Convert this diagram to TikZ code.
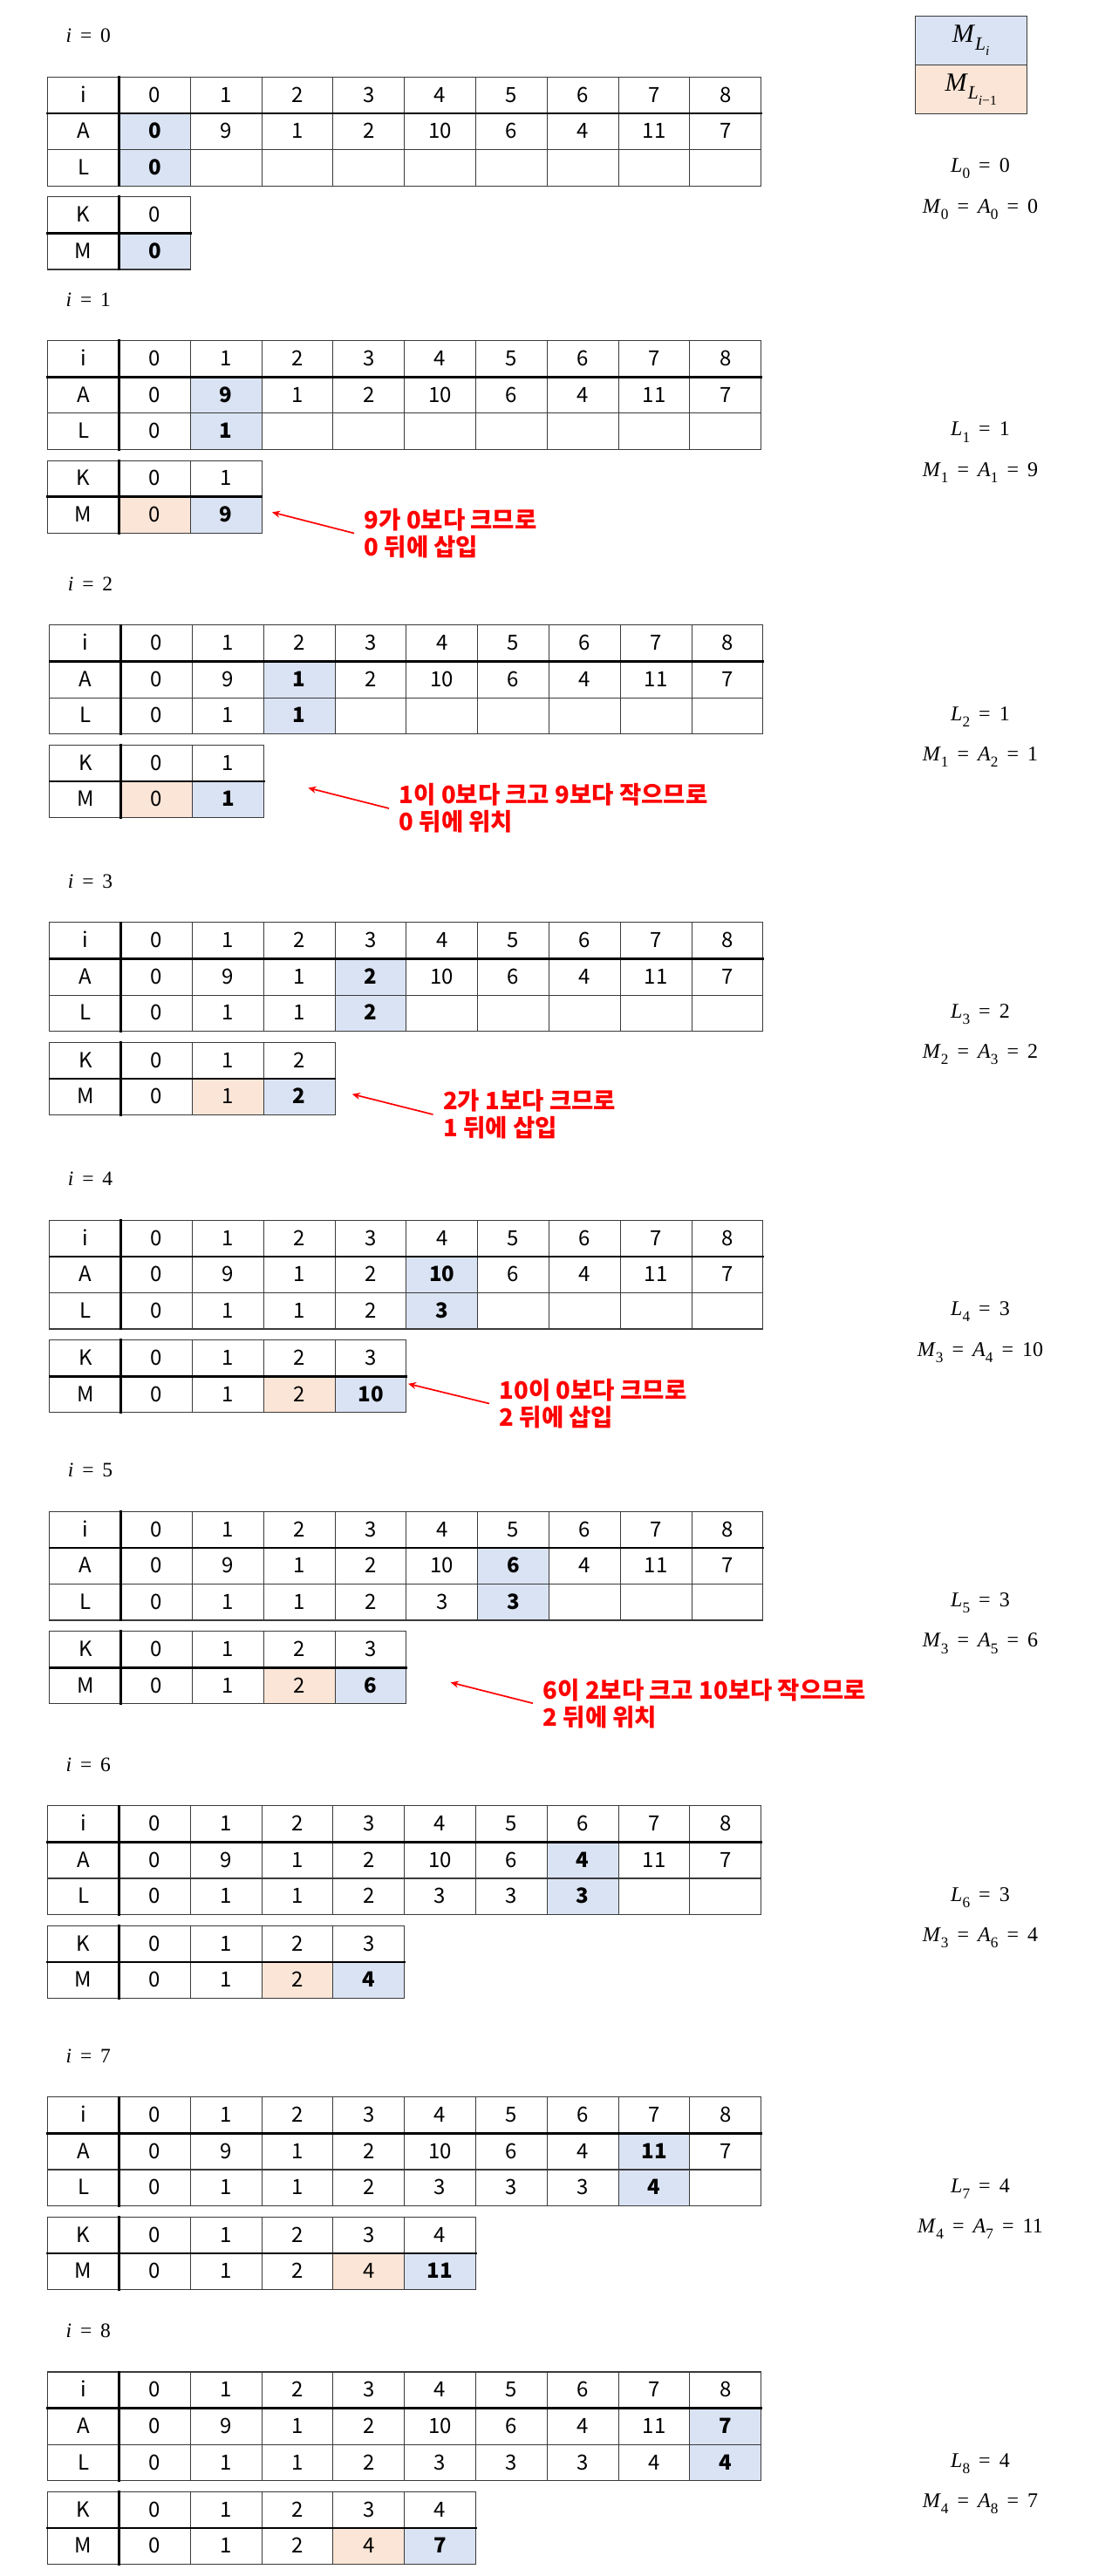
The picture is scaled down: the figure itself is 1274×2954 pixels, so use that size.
\documentclass[tikz,border=0pt]{standalone}
\usepackage{graphicx}
\usepackage{fontspec}
\newfontfamily\kr{Noto Sans CJK KR}
\newfontfamily\mth{Liberation Serif}
\usetikzlibrary{arrows.meta}
\definecolor{cblue}{HTML}{DAE3F3}
\definecolor{corange}{HTML}{FBE5D6}
\definecolor{gridc}{HTML}{3A3A3A}
\definecolor{annred}{HTML}{FF0000}
\newcommand\subx[1]{\raisebox{-0.3em}{\scalebox{0.72}{#1}}}
\newcommand\eqs{\hspace{0.42em}=\hspace{0.42em}}
\begin{document}
\begin{tikzpicture}[x=1pt,y=-1pt,
  cell/.style={minimum width=81.8pt, minimum height=41.6pt, inner sep=0pt,
    text height=16pt, text depth=0pt, font=\kr\fontsize{24}{28}\selectfont, text=black},
  hl/.style={cell, fill=cblue, font=\kr\bfseries\fontsize{24}{28}\selectfont},
  prev/.style={cell, fill=corange},
  thinln/.style={draw=gridc, line width=1.1pt, line cap=rect},
  thickln/.style={draw=black, line width=2.6pt, line cap=rect},
  ilabel/.style={anchor=west, inner sep=0pt, font=\mth\fontsize{23.5}{27}\selectfont},
  formula/.style={inner sep=0pt, font=\mth\fontsize{24}{28}\selectfont},
  legend/.style={draw=gridc, line width=1pt, minimum width=128.3pt, minimum height=56.2pt,
    inner sep=0pt, font=\mth\fontsize{30}{34}\selectfont},
  ann/.style={anchor=west, inner xsep=11.5pt, inner ysep=0pt, align=left, text=annred,
    font=\kr\bfseries\fontsize{27.5}{31}\selectfont},
  annarrow/.style={draw=annred, line width=1.7pt, -{Stealth[length=9pt,width=8pt]}}
]
\useasboundingbox (0,0) rectangle (1274,2954);

% legend
\node[legend, fill=cblue] (lg1) at (1113.15,46.3) {\textit{M}\subx{\textit{L}\subx{\textit{i}}}};
\node[legend, fill=corange] (lg2) at (1113.15,102.5) {\textit{M}\subx{\textit{L}\subx{\textit{i}−1}}};

\foreach \i/\xo/\T/\mv/\org/\Lv/\Mk/\Av in {
  0/54.7/88.3/{0}/-1/0/0/0,
  1/54.7/390.6/{0,9}/0/1/1/9,
  2/56.9/716.9/{0,1}/0/1/1/1,
  3/56.9/1057.9/{0,1,2}/1/2/2/2,
  4/56.9/1399.2/{0,1,2,10}/2/3/3/10,
  5/56.9/1733.2/{0,1,2,6}/2/3/3/6,
  6/54.7/2070.8/{0,1,2,4}/2/3/3/4,
  7/54.7/2404.8/{0,1,2,4,11}/3/4/4/11,
  8/54.7/2720.0/{0,1,2,4,7}/3/4/4/7}
{
  \pgfmathsetmacro\KT{\T+137.5}
  \node[ilabel] (lab\i) at (\xo+20.8,\T-47) {\textit{i}\eqs\i};
  % main table
  \node[cell] (h\i-x) at (\xo+40.9,\T+20.8) {i};
  \node[cell] (a\i-x) at (\xo+40.9,\T+62.4) {A};
  \node[cell] (l\i-x) at (\xo+40.9,\T+104.0) {L};
  \foreach \c in {0,...,8}
    \node[cell] (h\i-\c) at (\xo+81.8*\c+122.7,\T+20.8) {\c};
  \foreach \v [count=\c from 0] in {0,9,1,2,10,6,4,11,7} {
    \ifnum\c=\i\relax\def\sty{hl}\else\def\sty{cell}\fi
    \node[\sty] (a\i-\c) at (\xo+81.8*\c+122.7,\T+62.4) {\v};
  }
  \foreach \v [count=\c from 0] in {0,1,1,2,3,3,3,4,4} {
    \ifnum\c>\i\relax\else
      \ifnum\c=\i\relax\def\sty{hl}\else\def\sty{cell}\fi
      \node[\sty] (l\i-\c) at (\xo+81.8*\c+122.7,\T+104.0) {\v};
    \fi
  }
  \foreach \r in {0,1,2,3}
    \draw[thinln] (\xo,\T+41.6*\r) -- (\xo+818,\T+41.6*\r);
  \foreach \c in {0,...,10}
    \draw[thinln] (\xo+81.8*\c,\T) -- (\xo+81.8*\c,\T+124.8);
  \draw[thickln] (\xo,\T+41.6) -- (\xo+818,\T+41.6);
  \draw[thickln] (\xo+81.8,\T) -- (\xo+81.8,\T+124.8);
  % K / M table
  \foreach \m [count=\k from 0] in \mv {\xdef\nK{\k}}
  \node[cell] (k\i-x) at (\xo+40.9,\KT+20.8) {K};
  \node[cell] (m\i-x) at (\xo+40.9,\KT+62.4) {M};
  \foreach \m [count=\k from 0] in \mv {
    \ifnum\k=\nK\relax\def\sty{hl}\else\ifnum\k=\org\relax\def\sty{prev}\else\def\sty{cell}\fi\fi
    \node[cell] (k\i-\k) at (\xo+81.8*\k+122.7,\KT+20.8) {\k};
    \node[\sty] (m\i-\k) at (\xo+81.8*\k+122.7,\KT+62.4) {\m};
  }
  \pgfmathsetmacro\KW{81.8*(\nK+2)}
  \foreach \r in {0,1,2}
    \draw[thinln] (\xo,\KT+41.6*\r) -- (\xo+\KW,\KT+41.6*\r);
  \pgfmathtruncatemacro\nC{\nK+2}
  \foreach \c in {0,...,\nC}
    \draw[thinln] (\xo+81.8*\c,\KT) -- (\xo+81.8*\c,\KT+83.2);
  \draw[thickln] (\xo,\KT+41.6) -- (\xo+\KW,\KT+41.6);
  \draw[thickln] (\xo+81.8,\KT) -- (\xo+81.8,\KT+83.2);
  % formulas
  \node[formula] (fl\i) at (1124,\T+105) {\textit{L}\subx{\i}\eqs\Lv};
  \node[formula] (fm\i) at (1124,\T+151.5) {\textit{M}\subx{\Mk}\eqs\textit{A}\subx{\i}\eqs\Av};
}

% annotations
\node[ann] (n1) at (406,611.5) {9가 0보다 크므로\\0 뒤에 삽입};
\coordinate (t1) at (312,587.4);
\draw[annarrow] (n1.west) -- (t1);
\node[ann] (n2) at (446,927) {1이 0보다 크고 9보다 작으므로\\0 뒤에 위치};
\coordinate (t2) at (353.4,903.5);
\draw[annarrow] (n2.west) -- (t2);
\node[ann] (n3) at (496.5,1278) {2가 1보다 크므로\\1 뒤에 삽입};
\coordinate (t3) at (403.8,1254.7);
\draw[annarrow] (n3.west) -- (t3);
\node[ann] (n4) at (561,1609.5) {10이 0보다 크므로\\2 뒤에 삽입};
\coordinate (t4) at (468,1586.8);
\draw[annarrow] (n4.west) -- (t4);
\node[ann] (n5) at (611,1953.2) {6이 2보다 크고 10보다 작으므로\\2 뒤에 위치};
\coordinate (t5) at (516.7,1929.3);
\draw[annarrow] (n5.west) -- (t5);
\end{tikzpicture}
\end{document}
